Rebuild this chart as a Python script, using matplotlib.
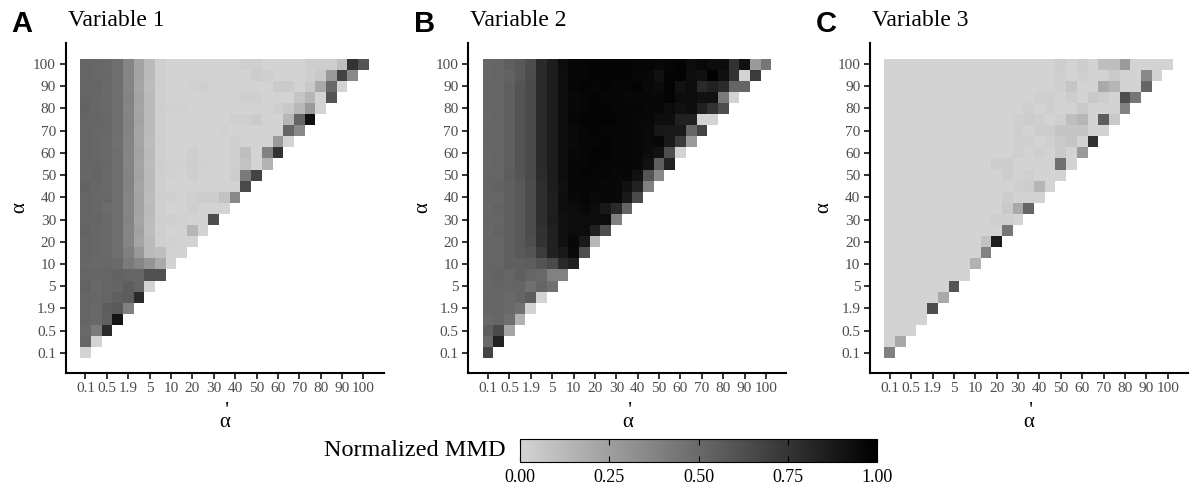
import numpy as np
import matplotlib.pyplot as plt
from matplotlib.colors import LinearSegmentedColormap, Normalize
from matplotlib.cm import ScalarMappable

plt.rcParams['font.family'] = ['Liberation Serif', 'DejaVu Serif']

# alpha grid (rows = alpha, cols = alpha'), only every other level is labelled
alpha_levels = ['0.1', '0.3', '0.5', '1', '1.9', '3', '5', '7.5', '10', '15', '20', '25', '30', '35',
                '40', '45', '50', '55', '60', '65', '70', '75', '80', '85', '90', '95', '100']
tick_labels = ['0.1', '0.5', '1.9', '5', '10', '20', '30', '40', '50', '60', '70', '80', '90', '100']

panel_tags = ['A', 'B', 'C']
panel_titles = ['Variable 1', 'Variable 2', 'Variable 3']

# normalized MMD in percent, one list per alpha row (bottom row first), alpha' <= alpha
mmd_var1 = [
    [0],
    [52, 0],
    [50, 42, 80],
    [52, 50, 55, 90],
    [52, 50, 56, 58, 39],
    [52, 51, 52, 55, 56, 80],
    [53, 50, 52, 52, 56, 52, 0],
    [52, 52, 52, 53, 52, 52, 62, 62],
    [51, 50, 51, 50, 42, 37, 30, 20, 0],
    [52, 51, 50, 48, 40, 28, 12, 10, 0, 0],
    [52, 51, 50, 48, 37, 22, 12, 2, 1, 0, 0],
    [53, 51, 50, 48, 37, 24, 10, 2, 0, 0, 14, 0],
    [52, 52, 50, 48, 38, 22, 11, 2, 2, 1, 0, 0, 63],
    [52, 51, 49, 48, 37, 23, 12, 2, 0, 0, 2, 0, 0, 0],
    [52, 51, 51, 48, 37, 23, 11, 2, 2, 0, 2, 3, 3, 8, 35],
    [53, 51, 50, 48, 38, 22, 12, 2, 0, 0, 0, 0, 0, 0, 0, 65],
    [51, 52, 50, 48, 38, 23, 12, 2, 1, 0, 2, 0, 0, 0, 3, 42, 68],
    [52, 52, 51, 48, 37, 22, 11, 2, 1, 1, 3, 1, 0, 0, 2, 8, 0, 16],
    [52, 51, 50, 48, 37, 23, 12, 2, 0, 0, 2, 0, 0, 0, 2, 10, 0, 39, 76],
    [52, 51, 50, 47, 37, 22, 11, 2, 0, 0, 0, 0, 0, 0, 2, 0, 0, 0, 27, 0],
    [52, 51, 51, 48, 38, 22, 12, 2, 0, 0, 0, 0, 0, 1, 0, 0, 0, 0, 0, 52, 35],
    [52, 52, 51, 48, 38, 23, 12, 2, 0, 0, 0, 0, 0, 0, 2, 2, 4, 0, 0, 14, 52, 92],
    [53, 51, 50, 48, 37, 22, 12, 2, 1, 1, 0, 0, 0, 0, 0, 0, 0, 0, 2, 5, 13, 27, 0],
    [52, 51, 50, 48, 38, 23, 12, 2, 0, 0, 0, 0, 0, 0, 0, 2, 2, 0, 0, 0, 7, 14, 0, 60],
    [52, 52, 50, 48, 37, 22, 11, 2, 0, 0, 1, 2, 0, 0, 0, 0, 0, 0, 4, 4, 0, 5, 20, 50, 0],
    [52, 51, 51, 48, 37, 23, 12, 2, 0, 0, 0, 0, 0, 0, 0, 0, 3, 2, 0, 0, 0, 2, 5, 27, 68, 35],
    [52, 51, 50, 48, 37, 23, 12, 2, 0, 0, 0, 0, 0, 0, 0, 2, 2, 0, 0, 0, 0, 3, 3, 3, 10, 76, 60],
]

mmd_var2 = [
    [68],
    [50, 84],
    [55, 65, 22],
    [50, 52, 48, 16],
    [52, 52, 50, 47, 0],
    [52, 52, 50, 52, 56, 0],
    [51, 52, 52, 52, 47, 52, 47],
    [52, 53, 52, 55, 52, 50, 39, 39],
    [52, 52, 55, 55, 56, 60, 65, 80, 84],
    [52, 52, 55, 58, 60, 72, 84, 88, 95, 63],
    [52, 52, 55, 58, 63, 76, 84, 92, 96, 88, 13],
    [51, 53, 55, 58, 64, 76, 84, 92, 94, 94, 84, 63],
    [52, 52, 55, 58, 64, 78, 86, 92, 94, 94, 94, 94, 39],
    [51, 53, 55, 58, 64, 78, 85, 93, 94, 96, 94, 88, 80, 52],
    [52, 52, 55, 58, 64, 78, 85, 93, 96, 97, 95, 96, 96, 88, 65],
    [52, 53, 55, 58, 64, 78, 86, 92, 97, 97, 97, 96, 96, 92, 84, 39],
    [52, 52, 56, 60, 65, 79, 86, 93, 97, 98, 97, 97, 96, 97, 92, 60, 35],
    [51, 52, 55, 60, 65, 80, 86, 93, 97, 97, 98, 97, 97, 97, 96, 92, 55, 84],
    [51, 52, 55, 60, 65, 80, 86, 93, 96, 97, 98, 98, 97, 97, 96, 94, 92, 63, 0],
    [52, 52, 55, 60, 65, 80, 86, 93, 95, 97, 97, 98, 97, 97, 96, 95, 96, 88, 72, 27],
    [52, 52, 55, 60, 65, 80, 86, 93, 95, 97, 98, 97, 97, 97, 96, 95, 89, 88, 88, 52, 68],
    [51, 52, 55, 60, 65, 80, 86, 93, 97, 98, 98, 98, 98, 97, 96, 96, 93, 93, 84, 84, 0, 0],
    [52, 52, 55, 60, 65, 80, 86, 93, 96, 97, 98, 98, 97, 97, 97, 96, 96, 94, 92, 94, 84, 76, 63],
    [52, 52, 55, 60, 65, 80, 86, 93, 96, 97, 98, 97, 97, 96, 96, 96, 96, 98, 94, 94, 92, 92, 42, 0],
    [52, 52, 55, 60, 65, 80, 86, 93, 97, 98, 97, 98, 97, 97, 98, 96, 94, 98, 92, 94, 80, 84, 80, 52, 52],
    [51, 52, 53, 58, 64, 80, 86, 93, 97, 97, 98, 98, 98, 98, 96, 96, 92, 98, 98, 93, 92, 99, 92, 76, 0, 72],
    [51, 52, 55, 58, 63, 80, 86, 94, 97, 97, 98, 98, 98, 98, 97, 97, 96, 97, 98, 94, 96, 94, 94, 76, 92, 27, 44],
]

mmd_var3 = [
    [39],
    [0, 20],
    [0, 0, 0],
    [0, 0, 0, 0],
    [0, 0, 0, 0, 63],
    [0, 0, 0, 0, 0, 20],
    [0, 0, 0, 0, 0, 0, 60],
    [0, 0, 0, 0, 0, 0, 0, 0],
    [0, 0, 0, 0, 0, 0, 0, 0, 16],
    [0, 0, 0, 0, 0, 0, 0, 0, 0, 39],
    [0, 0, 0, 0, 0, 0, 0, 0, 0, 8, 86],
    [0, 0, 0, 0, 0, 0, 0, 0, 0, 0, 0, 44],
    [0, 0, 0, 0, 0, 0, 0, 0, 0, 0, 2, 2, 0],
    [0, 0, 0, 0, 0, 0, 0, 0, 0, 0, 0, 5, 20, 52],
    [0, 0, 0, 0, 0, 0, 0, 0, 0, 0, 0, 3, 0, 0, 0],
    [0, 0, 0, 0, 0, 0, 0, 0, 0, 0, 0, 0, 2, 3, 14, 0],
    [0, 0, 0, 0, 0, 0, 0, 0, 0, 0, 0, 3, 0, 2, 0, 0, 0],
    [0, 0, 0, 0, 0, 0, 0, 0, 0, 0, 3, 3, 0, 0, 0, 0, 47, 0],
    [0, 0, 0, 0, 0, 0, 0, 0, 0, 0, 0, 0, 2, 0, 2, 0, 5, 0, 27],
    [0, 0, 0, 0, 0, 0, 0, 0, 0, 0, 0, 0, 2, 2, 0, 2, 5, 7, 0, 76],
    [0, 0, 0, 0, 0, 0, 0, 0, 0, 0, 0, 0, 2, 0, 3, 3, 7, 7, 7, 0, 0],
    [0, 0, 0, 0, 0, 0, 0, 0, 0, 0, 0, 0, 2, 3, 2, 0, 2, 10, 14, 0, 56, 5],
    [0, 0, 0, 0, 0, 0, 0, 0, 0, 0, 0, 0, 0, 2, 0, 2, 0, 0, 5, 0, 0, 0, 39],
    [0, 0, 0, 0, 0, 0, 0, 0, 0, 0, 0, 0, 0, 0, 2, 2, 0, 3, 0, 5, 3, 0, 63, 44],
    [0, 0, 0, 0, 0, 0, 0, 0, 0, 0, 0, 0, 0, 0, 0, 0, 2, 7, 0, 0, 20, 14, 0, 0, 52],
    [0, 0, 0, 0, 0, 0, 0, 0, 0, 0, 0, 0, 0, 0, 0, 0, 2, 0, 2, 0, 0, 5, 0, 0, 35, 0],
    [0, 0, 0, 0, 0, 0, 0, 0, 0, 0, 0, 0, 0, 0, 0, 0, 3, 0, 3, 0, 10, 10, 27, 0, 0, 0, 0],
]

cbar_ticks = [0.0, 0.25, 0.5, 0.75, 1.0]

cmap = LinearSegmentedColormap.from_list('mmd', ['#D3D3D3', '#000000'])
norm = Normalize(0, 1)

W, H = 1192, 493
fig = plt.figure(figsize=(W / 100, H / 100), dpi=100)

n = len(alpha_levels)
panel_left = [65.7, 468.3, 870]     # pixel x of the y-axis line
ax_w, ax_top, ax_bot = 318, 43, 372.7
edges = np.arange(n + 1) - 0.5

for k, rows in enumerate([mmd_var1, mmd_var2, mmd_var3]):
    M = np.full((n, n), np.nan)
    for r, row in enumerate(rows):
        M[r, :len(row)] = np.array(row) / 100.0
    ax = fig.add_axes([panel_left[k] / W, (H - ax_bot) / H, ax_w / W, (ax_bot - ax_top) / H])
    ax.pcolormesh(edges, edges, np.ma.masked_invalid(M), cmap=cmap, norm=norm,
                  shading='flat', edgecolors='none', antialiased=False)
    ax.set_xlim(-1.85, 27.9)
    ax.set_ylim(-1.8, 27.9)
    ax.set_xticks(np.arange(0, n, 2))
    ax.set_yticks(np.arange(0, n, 2))
    ax.set_xticklabels(tick_labels)
    ax.set_yticklabels(tick_labels)
    ax.tick_params(length=4, width=1.4, color='#333333', labelcolor='#4D4D4D',
                   labelsize=11, pad=3)
    for s in ['top', 'right']:
        ax.spines[s].set_visible(False)
    for s in ['left', 'bottom']:
        ax.spines[s].set_linewidth(1.5)
        ax.spines[s].set_color('black')

    # axis titles: alpha and alpha-prime (prime sits above the alpha)
    ax.text(-46 / ax_w, 0.5, 'α', rotation=90, transform=ax.transAxes,
            ha='center', va='center', fontsize=15)
    ax.text(0.5, -(427 - ax_bot) / (ax_bot - ax_top), " '\nα", transform=ax.transAxes,
            ha='center', va='baseline', multialignment='center', linespacing=0.4,
            fontsize=15)

    # tag and title
    fig.text((panel_left[k] - 54) / W, 1 - 32 / H, panel_tags[k], fontsize=21,
             fontweight='bold', family='Liberation Sans', ha='left', va='baseline')
    fig.text((panel_left[k] + 2) / W, 1 - 26 / H, panel_titles[k], fontsize=17,
             ha='left', va='baseline')

# colour bar
cax = fig.add_axes([520 / W, (H - 462) / H, 357 / W, 23 / H])
cb = fig.colorbar(ScalarMappable(norm=norm, cmap=cmap), cax=cax, orientation='horizontal')
cb.set_ticks(cbar_ticks)
cb.set_ticklabels(['0.00', '0.25', '0.50', '0.75', '1.00'])
cb.outline.set_linewidth(0.8)
cax.tick_params(direction='in', length=4.5, width=0.8, color='black', top=True,
                bottom=True, labelsize=13, labelcolor='black', pad=5)
fig.text(506 / W, 1 - 451 / H, 'Normalized MMD', ha='right', va='center', fontsize=17.5)

fig.savefig('out.png', dpi=100)
